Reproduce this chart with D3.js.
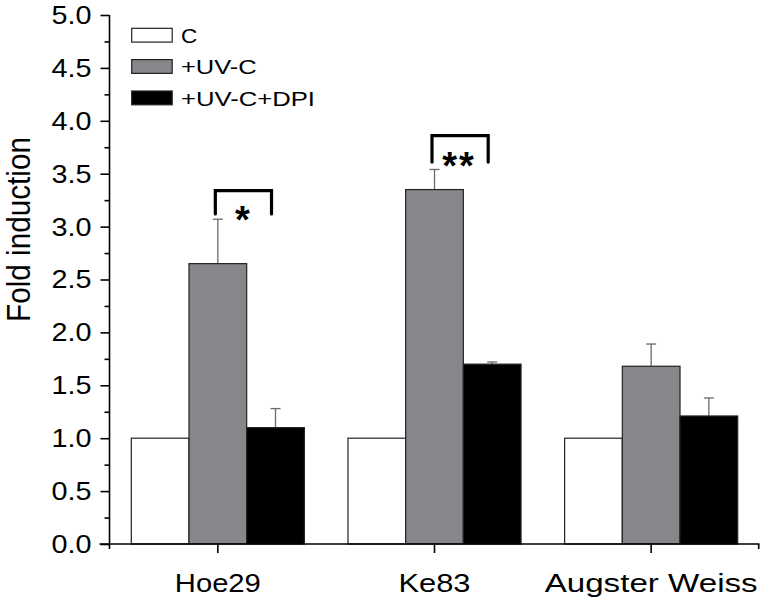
<!DOCTYPE html>
<html>
<head>
<meta charset="utf-8">
<script src="https://cdn.jsdelivr.net/npm/d3@7/dist/d3.min.js"></script>
<style>
  html, body { margin: 0; padding: 0; background: #fff; }
  svg { display: block; font-family: Arial, "Liberation Sans", Helvetica, sans-serif; }
</style>
</head>
<body>
<svg id="chart" width="760" height="601"></svg>
<script>
// ---- data ----
const categories = ["Hoe29", "Ke83", "Augster Weiss"];
const seriesNames = ["C", "+UV-C", "+UV-C+DPI"];
const valuesC = [1.00, 1.00, 1.00];
const valuesUVC = [2.65, 3.35, 1.68];
const errorsUVC = [0.42, 0.19, 0.21];
const valuesDPI = [1.10, 1.70, 1.21];
const errorsDPI = [0.18, 0.02, 0.17];
const yTickLabels = ["0.0","0.5","1.0","1.5","2.0","2.5","3.0","3.5","4.0","4.5","5.0"];
const sigCategories = ["Hoe29", "Ke83"];
const sigLabels = ["*", "**"];
const sigTop = [3.34, 3.86];
const sigLeg = [3.12, 3.61];

// ---- layout ----
const svg = d3.select("#chart");
const plotLeft = 109.5, plotRight = 759.5, plotTop = 15, plotBottom = 544;
const fills = ["#ffffff", "#86878b", "#000000"];

const y = d3.scaleLinear().domain([0, 5]).range([plotBottom, plotTop]);
const x = d3.scaleBand().domain(categories).range([plotLeft, plotRight]).paddingInner(0).paddingOuter(0);
const groupPad = 21.8;
const xs = d3.scaleBand().domain(seriesNames).range([groupPad, x.bandwidth() - groupPad]);

const table = categories.map((c, i) => ({
  cat: c,
  bars: [
    { s: seriesNames[0], v: valuesC[i], e: 0 },
    { s: seriesNames[1], v: valuesUVC[i], e: errorsUVC[i] },
    { s: seriesNames[2], v: valuesDPI[i], e: errorsDPI[i] }
  ]
}));

const g = svg.append("g");
// error bars
table.forEach(d => {
  d.bars.forEach((b, j) => {
    if (b.e <= 0) return;
    const cx = x(d.cat) + xs(b.s) + xs.bandwidth() / 2;
    g.append("line").attr("x1", cx).attr("x2", cx)
      .attr("y1", y(b.v)).attr("y2", y(b.v + b.e))
      .attr("stroke", "#6a6a6a").attr("stroke-width", 1.3);
    g.append("line").attr("x1", cx - 5).attr("x2", cx + 5)
      .attr("y1", y(b.v + b.e)).attr("y2", y(b.v + b.e))
      .attr("stroke", "#6a6a6a").attr("stroke-width", 1.3);
  });
});

// bars
table.forEach(d => {
  d.bars.forEach((b, j) => {
    g.append("rect")
      .attr("x", x(d.cat) + xs(b.s))
      .attr("y", y(b.v))
      .attr("width", xs.bandwidth())
      .attr("height", y(0) - y(b.v))
      .attr("fill", fills[j])
      .attr("stroke", "#222")
      .attr("stroke-width", 1.2);
  });
});

// y axis
const yAxis = d3.axisLeft(y).tickValues(d3.range(0, 5.01, 0.5)).tickSize(9).tickPadding(9)
  .tickFormat((d, i) => yTickLabels[i]);
const yg = svg.append("g").attr("transform", `translate(${plotLeft},0)`).call(yAxis);
yg.select(".domain").attr("stroke", "#000").attr("stroke-width", 1.6).attr("d", `M0,${plotBottom}V${plotTop}`);
yg.selectAll(".tick line").attr("stroke", "#000").attr("stroke-width", 1.6);
yg.selectAll(".tick text").attr("font-size", 26.5).attr("fill", "#000")
  .attr("textLength", 40).attr("lengthAdjust", "spacingAndGlyphs")
  .attr("font-family", "Arial, 'Liberation Sans', sans-serif");
// minor ticks
const minorAxis = d3.axisLeft(y).tickValues(d3.range(0.25, 5, 0.5)).tickSize(5).tickFormat("");
const mg = svg.append("g").attr("transform", `translate(${plotLeft},0)`).call(minorAxis);
mg.select(".domain").remove();
mg.selectAll(".tick line").attr("stroke", "#000").attr("stroke-width", 1.6);

// x axis
const xAxis = d3.axisBottom(x).tickSize(9).tickPadding(20).tickFormat("");
const xg = svg.append("g").attr("transform", `translate(0,${plotBottom})`).call(xAxis);
xg.select(".domain").attr("stroke", "#000").attr("stroke-width", 1.6).attr("d", `M${plotLeft - 10},0H${plotRight}`);
xg.selectAll(".tick line").attr("stroke", "#000").attr("stroke-width", 1.6);
[plotLeft, plotRight - 0.8].forEach(px => {
  xg.append("line").attr("x1", px).attr("x2", px).attr("y1", 0).attr("y2", 5)
    .attr("stroke", "#000").attr("stroke-width", 1.6);
});
const xLabelWidths = [86, 72, 213];
categories.forEach((c, i) => {
  svg.append("text").attr("x", x(c) + x.bandwidth() / 2).attr("y", 591.5)
    .attr("text-anchor", "middle").attr("font-size", 26.5).attr("fill", "#000")
    .attr("textLength", xLabelWidths[i]).attr("lengthAdjust", "spacingAndGlyphs")
    .text(c);
});

// y title
svg.append("text")
  .attr("transform", "translate(30,229.5) rotate(-90) scale(1,1.1)")
  .attr("text-anchor", "middle").attr("font-size", 30).attr("fill", "#000")
  .attr("textLength", 185).attr("lengthAdjust", "spacingAndGlyphs")
  .text("Fold induction");

// significance brackets
sigCategories.forEach((c, i) => {
  const x1 = x(c) + xs(seriesNames[1]) + xs.bandwidth() / 2 - 2.5;
  const x2 = x(c) + xs(seriesNames[2]) + xs.bandwidth() / 2 - 4;
  svg.append("path")
    .attr("d", `M${x1},${y(sigLeg[i])}V${y(sigTop[i])}H${x2}V${y(sigLeg[i])}`)
    .attr("fill", "none").attr("stroke", "#000").attr("stroke-width", 3.2)
    .attr("stroke-linecap", "round").attr("stroke-linejoin", "miter");
  svg.append("text")
    .attr("x", (x1 + x2) / 2 - 1)
    .attr("y", y(sigLeg[i]) + (i === 0 ? 19 : 17))
    .attr("text-anchor", "middle").attr("font-size", 38).attr("font-weight", "bold")
    .attr("letter-spacing", i === 1 ? 2 : 0)
    .text(sigLabels[i]);
});

// legend
const legendTops = [28.3, 59.6, 91];
const legendWidths = [16.3, 75.7, 134];
seriesNames.forEach((s, i) => {
  svg.append("rect").attr("x", 131.7).attr("y", legendTops[i]).attr("width", 40.5).attr("height", 13.8)
    .attr("fill", fills[i]).attr("stroke", "#222").attr("stroke-width", 1.2);
  svg.append("text").attr("x", 181).attr("y", legendTops[i] + 14.5)
    .attr("font-size", 21).attr("fill", "#000")
    .attr("textLength", legendWidths[i]).attr("lengthAdjust", "spacingAndGlyphs")
    .text(s);
});
</script>
</body>
</html>
